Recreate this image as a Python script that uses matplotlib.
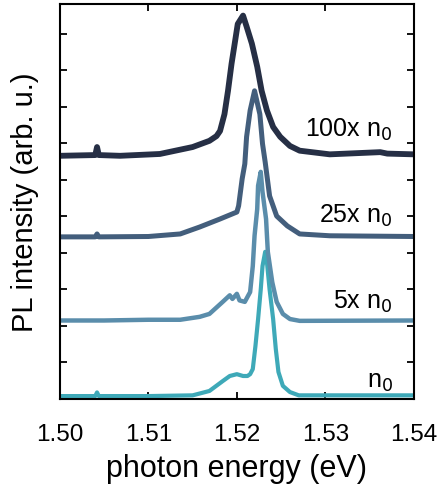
import matplotlib
matplotlib.use("Agg")
import matplotlib.pyplot as plt

plt.rcParams['font.family'] = ['Liberation Sans', 'DejaVu Sans']

# photon energy (eV) / PL intensity (arb. u., offset)
e_n0 = [1.500, 1.504, 1.5042, 1.5044, 1.510, 1.515, 1.5169, 1.5184, 1.5192, 1.5200,
        1.5207, 1.5212, 1.5215, 1.5218, 1.5221, 1.5224, 1.5227, 1.5229, 1.5232,
        1.5234, 1.5237, 1.5241, 1.5244, 1.5247, 1.5252, 1.5260, 1.527, 1.535, 1.540]
i_n0 = [0.08, 0.08, 0.18, 0.08, 0.08, 0.1, 0.22, 0.49, 0.63, 0.68,
        0.63, 0.63, 0.68, 0.82, 1.45, 2.19, 3.0, 3.64, 4.03,
        3.75, 3.0, 2.19, 1.37, 0.74, 0.36, 0.19, 0.1, 0.1, 0.1]

e_5x = [1.500, 1.505, 1.510, 1.5136, 1.5158, 1.5169, 1.5184, 1.5192, 1.5195, 1.5200,
        1.5203, 1.5209, 1.5215, 1.5218, 1.5220, 1.5223, 1.5224, 1.5227, 1.5229,
        1.5233, 1.5235, 1.5240, 1.5245, 1.5252, 1.5260, 1.5271, 1.540]
i_5x = [2.15, 2.15, 2.17, 2.17, 2.25, 2.33, 2.66, 2.84, 2.74, 2.88,
        2.7, 2.66, 2.93, 3.64, 4.47, 5.2, 5.84, 6.22, 5.67,
        4.93, 4.03, 3.2, 2.66, 2.33, 2.19, 2.14, 2.15]

e_25x = [1.500, 1.504, 1.5042, 1.5044, 1.510, 1.5136, 1.5158, 1.5181, 1.5200, 1.5202,
         1.5206, 1.5209, 1.5211, 1.5215, 1.5220, 1.5226, 1.5229, 1.5232, 1.5237,
         1.5245, 1.5257, 1.5271, 1.5305, 1.540]
i_25x = [4.44, 4.44, 4.52, 4.44, 4.45, 4.52, 4.71, 4.93, 5.12, 5.29,
         6.03, 6.44, 7.18, 7.9, 8.44, 7.8, 6.99, 6.49, 5.56,
         5.01, 4.74, 4.52, 4.47, 4.45]

e_100x = [1.500, 1.504, 1.5042, 1.5044, 1.5068, 1.5113, 1.5150, 1.5169, 1.5177, 1.5181,
          1.5186, 1.5190, 1.5194, 1.5198, 1.5201, 1.5207, 1.5211, 1.5217, 1.5223,
          1.5228, 1.5234, 1.5241, 1.5249, 1.5260, 1.5271, 1.5305, 1.5362, 1.537, 1.540]
i_100x = [6.66, 6.68, 6.9, 6.68, 6.66, 6.71, 6.9, 7.07, 7.2, 7.34,
          7.8, 8.44, 9.18, 9.8, 10.27, 10.5, 10.2, 9.73, 9.1,
          8.44, 7.9, 7.45, 7.18, 6.93, 6.8, 6.7, 6.76, 6.72, 6.7]

labels = ['n$_0$', '5x n$_0$', '25x n$_0$', '100x n$_0$']
label_y = [0.5, 2.7, 5.05, 7.4]
colors = ['#3ea9b8', '#5a8dab', '#435e7c', '#262f45']
widths = [3.0, 3.2, 3.6, 4.2]

fig = plt.figure(figsize=(4.37, 4.89), dpi=100)
ax = fig.add_axes([0.137, 0.182, 0.81, 0.808])

series = [(e_n0, i_n0), (e_5x, i_5x), (e_25x, i_25x), (e_100x, i_100x)]
for (e, i), c, w in zip(series, colors, widths):
    ax.plot(e, i, color=c, lw=w, solid_joinstyle='round')

for lab, y in zip(labels, label_y):
    ax.text(1.5376, y, lab, ha='right', va='center', fontsize=18)

ax.set_xlim(1.50, 1.54)
ax.set_ylim(0, 10.82)
ax.set_xticks([1.50, 1.51, 1.52, 1.53, 1.54])
ax.set_xticklabels(['1.50', '1.51', '1.52', '1.53', '1.54'])
ax.set_yticks(range(0, 11))
ax.set_yticklabels([])
ax.tick_params(direction='in', top=True, right=True, length=5, width=1.3)
ax.tick_params(axis='x', labelsize=17.5, pad=17)
for s in ax.spines.values():
    s.set_linewidth(1.5)

ax.set_xlabel('photon energy (eV)', fontsize=22, labelpad=6)
ax.set_ylabel('PL intensity (arb. u.)', fontsize=21)
ax.yaxis.set_label_coords(-0.06, 0.5)

plt.savefig("out.png", dpi=100)
